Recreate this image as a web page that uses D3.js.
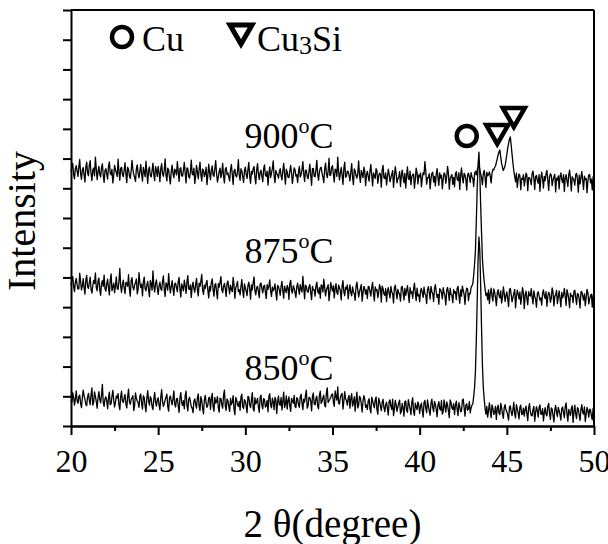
<!DOCTYPE html>
<html>
<head>
<meta charset="utf-8">
<script src="https://cdn.jsdelivr.net/npm/d3@7"></script>
<style>
	body { margin: 0; background: #fff; }
	#graphicContainer { width: 608px; height: 544px; }
	text { font-family: "Liberation Serif", "Times New Roman", "DejaVu Serif", serif; fill: #000; }
</style>
</head>
<body>
<div id="graphicContainer"></div>
<script>

// intensities read every 0.1 degree (20.0 ... 50.0) and at the midpoints (20.05 ... 49.95)
var s850 = [
	87, 112, 70, 118, 76, 104, 62, 121, 90, 68,
	110, 72, 128, 80, 99, 60, 116, 78, 140, 66,
	98, 58, 114, 75, 120, 64, 101, 109, 55, 117,
	79, 106, 61, 124, 73, 95, 52, 111, 84, 63,
	108, 57, 96, 48, 119, 70, 92, 55, 113, 67,
	95, 54, 122, 66, 88, 107, 50, 101, 71, 118,
	64, 93, 46, 112, 69, 58, 117, 51, 97, 65,
	45, 91, 60, 108, 52, 86, 41, 103, 63, 94,
	56, 110, 50, 77, 99, 47, 92, 60, 121, 53,
	85, 49, 72, 102, 38, 88, 66, 53, 107, 59,
	83, 45, 97, 62, 112, 50, 74, 93, 46, 104,
	58, 90, 67, 48, 109, 61, 82, 96, 42, 101,
	70, 54, 114, 73, 57, 98, 49, 86, 103, 62,
	92, 63, 107, 55, 80, 121, 68, 95, 51, 111,
	71, 100, 58, 117, 83, 104, 64, 128, 85, 97,
	108, 66, 99, 132, 74, 105, 57, 116, 86, 94,
	60, 109, 79, 50, 114, 70, 95, 47, 102, 63,
	56, 92, 44, 85, 61, 98, 40, 83, 52, 90,
	48, 80, 37, 88, 55, 35, 86, 49, 78, 41,
	76, 33, 84, 46, 72, 38, 95, 36, 64, 81,
	42, 77, 30, 86, 45, 68, 37, 90, 48, 74,
	31, 82, 53, 40, 88, 47, 72, 28, 79, 56,
	39, 84, 35, 66, 50, 91, 33, 75, 58, 44,
	70, 100, 185, 420, 636, 470, 205, 92, 40, 30,
	78, 28, 60, 45, 22, 70, 38, 63, 26, 72,
	49, 20, 68, 35, 80, 27, 58, 24, 70, 41,
	33, 67, 18, 75, 36, 55, 16, 65, 30, 71,
	39, 17, 62, 34, 76, 22, 57, 14, 69, 32,
	52, 20, 64, 28, 78, 16, 45, 60, 12, 70,
	25, 58, 19, 72, 40, 15, 63, 30, 54, 21,
	47
]
var s850mid = [
	80, 96, 91, 85, 99, 77, 94, 102, 73, 97,
	88, 106, 70, 115, 83, 95, 90, 104, 79, 92,
	85, 93, 72, 100, 87, 79, 94, 70, 99, 84,
	95, 74, 98, 81, 89, 102, 69, 93, 78, 100,
	76, 102, 68, 94, 84, 99, 65, 90, 80, 88,
	72, 97, 83, 75, 98, 66, 95, 85, 92, 74,
	91, 68, 96, 79, 85, 102, 70, 88, 81, 60,
	84, 73, 95, 67, 99, 59, 88, 78, 71, 97,
	90, 65, 96, 82, 62, 94, 72, 104, 68, 91,
	66, 93, 80, 57, 96, 71, 83, 98, 64, 89,
	68, 100, 71, 88, 59, 95, 82, 63, 97, 70,
	92, 64, 86, 99, 70, 94, 55, 89, 80, 73,
	96, 83, 62, 101, 85, 68, 93, 76, 66, 95,
	71, 98, 77, 90, 103, 60, 96, 84, 99, 74,
	93, 66, 104, 76, 95, 70, 112, 79, 90, 105,
	82, 118, 87, 77, 96, 110, 83, 91, 70, 103,
	92, 67, 98, 88, 61, 100, 74, 84, 90, 71,
	85, 58, 97, 72, 88, 55, 94, 66, 79, 62,
	71, 59, 83, 66, 90, 57, 72, 64, 87, 50,
	60, 82, 52, 89, 58, 80, 49, 77, 55, 70,
	66, 52, 80, 59, 88, 51, 77, 62, 83, 56,
	70, 58, 86, 49, 67, 81, 50, 88, 61, 75,
	68, 56, 79, 48, 86, 62, 70, 53, 82, 61,
	75, 130, 290, 560, 590, 330, 130, 60, 66, 52,
	50, 71, 39, 66, 58, 44, 76, 41, 62, 53,
	36, 63, 47, 55, 40, 72, 43, 64, 38, 60,
	55, 42, 61, 48, 34, 66, 45, 52, 63, 40,
	58, 45, 39, 67, 42, 61, 36, 54, 47, 63,
	38, 59, 44, 66, 41, 56, 35, 68, 48, 40,
	62, 37, 55, 46, 64, 39, 51, 57, 35, 60
]

var s875 = [
	475, 503, 452, 497, 461, 514, 458, 496, 444, 507,
	463, 501, 447, 490, 515, 455, 498, 440, 489, 508,
	454, 494, 441, 512, 468, 449, 502, 460, 530, 450,
	491, 446, 480, 509, 437, 499, 458, 483, 445, 516,
	466, 438, 501, 455, 487, 435, 478, 522, 451, 492,
	443, 484, 456, 505, 436, 475, 513, 448, 489, 440,
	481, 452, 500, 434, 468, 491, 446, 506, 460, 433,
	484, 450, 497, 438, 470, 510, 443, 463, 490, 431,
	455, 495, 437, 479, 428, 467, 503, 449, 480, 436,
	488, 445, 461, 500, 430, 474, 452, 441, 493, 433,
	466, 439, 484, 427, 458, 502, 441, 470, 432, 481,
	448, 474, 429, 460, 492, 436, 455, 478, 424, 469,
	440, 487, 430, 457, 473, 426, 490, 447, 463, 433,
	481, 444, 462, 504, 428, 469, 450, 476, 425, 458,
	437, 484, 446, 430, 472, 494, 438, 465, 422, 483,
	454, 431, 479, 443, 466, 424, 489, 439, 460, 428,
	475, 438, 452, 423, 484, 434, 463, 420, 470, 444,
	429, 468, 437, 483, 421, 455, 432, 476, 417, 462,
	440, 419, 466, 431, 451, 414, 474, 428, 448, 420,
	470, 424, 440, 472, 416, 447, 430, 481, 422, 438,
	418, 463, 433, 445, 412, 469, 427, 452, 419, 476,
	433, 410, 458, 428, 449, 407, 466, 423, 443, 415,
	447, 425, 470, 413, 437, 456, 409, 464, 422, 445,
	472, 508, 592, 800, 922, 742, 562, 488, 440, 425,
	412, 464, 420, 450, 405, 459, 431, 414, 468, 419,
	451, 402, 463, 418, 446, 398, 457, 428, 410, 466,
	395, 454, 408, 440, 462, 411, 437, 400, 452, 424,
	407, 458, 429, 403, 450, 416, 465, 404, 441, 412,
	455, 401, 431, 463, 406, 446, 398, 437, 415, 457,
	409, 443, 397, 452, 424, 405, 460, 411, 438, 400,
	445
]
var s875mid = [
	490, 470, 485, 476, 462, 488, 471, 465, 492, 469,
	483, 460, 472, 479, 466, 487, 458, 480, 470, 462,
	478, 466, 490, 455, 481, 473, 462, 486, 471, 477,
	465, 484, 470, 461, 488, 467, 474, 495, 459, 482,
	478, 486, 463, 474, 461, 490, 457, 471, 480, 465,
	470, 462, 487, 460, 482, 457, 474, 468, 463, 478,
	466, 486, 459, 478, 455, 472, 484, 461, 475, 469,
	462, 476, 459, 481, 487, 458, 474, 480, 457, 470,
	483, 460, 475, 451, 479, 484, 458, 470, 462, 480,
	466, 474, 452, 476, 465, 487, 459, 470, 455, 478,
	453, 472, 461, 475, 483, 455, 466, 452, 479, 463,
	470, 450, 476, 471, 454, 468, 461, 449, 473, 457,
	469, 455, 471, 449, 465, 478, 456, 472, 450, 468,
	461, 476, 451, 465, 474, 453, 468, 448, 470, 459,
	471, 454, 466, 475, 451, 469, 457, 476, 449, 465,
	472, 463, 449, 474, 455, 470, 452, 467, 475, 456,
	448, 468, 445, 470, 459, 451, 476, 447, 462, 458,
	470, 452, 466, 447, 468, 460, 449, 464, 471, 444,
	462, 453, 446, 470, 445, 465, 451, 460, 443, 467,
	449, 463, 455, 444, 466, 452, 461, 448, 464, 442,
	455, 448, 467, 440, 459, 450, 470, 446, 461, 451,
	443, 462, 449, 466, 438, 457, 447, 464, 440, 459,
	452, 463, 440, 458, 471, 443, 450, 461, 446, 466,
	480, 545, 690, 880, 850, 650, 520, 462, 447, 458,
	446, 437, 461, 432, 448, 440, 455, 433, 447, 439,
	428, 458, 441, 432, 460, 436, 444, 451, 434, 448,
	440, 429, 452, 437, 433, 455, 426, 446, 438, 431,
	447, 438, 452, 435, 444, 431, 450, 437, 456, 433,
	430, 450, 441, 436, 459, 428, 447, 439, 453, 432,
	446, 428, 451, 437, 445, 432, 449, 427, 444, 441
]

var s900 = [
	855, 884, 832, 876, 840, 897, 830, 870, 821, 888,
	842, 893, 826, 868, 905, 829, 874, 838, 882, 820,
	866, 831, 889, 845, 818, 877, 852, 898, 827, 871,
	839, 886, 819, 864, 833, 894, 846, 823, 879, 835,
	880, 824, 856, 891, 817, 872, 838, 885, 826, 861,
	874, 822, 883, 840, 899, 825, 862, 815, 878, 836,
	858, 890, 823, 869, 841, 887, 818, 866, 834, 895,
	845, 816, 877, 832, 888, 824, 860, 850, 812, 881,
	829, 875, 840, 893, 821, 857, 836, 884, 818, 870,
	852, 825, 880, 813, 864, 838, 896, 827, 858, 820,
	871, 833, 887, 817, 848, 873, 815, 883, 830, 861,
	822, 879, 840, 811, 872, 851, 892, 819, 849, 834,
	866, 828, 884, 814, 855, 836, 877, 816, 869, 841,
	820, 874, 846, 890, 823, 860, 832, 881, 810, 867,
	839, 894, 827, 868, 850, 819, 885, 836, 901, 845,
	876, 821, 862, 905, 828, 870, 813, 888, 840, 856,
	825, 883, 812, 859, 834, 892, 820, 848, 871, 809,
	857, 824, 880, 808, 842, 866, 817, 851, 804, 877,
	833, 811, 864, 822, 847, 803, 873, 818, 838, 806,
	861, 819, 801, 872, 829, 812, 846, 800, 868, 815,
	838, 805, 853, 890, 814, 836, 798, 850, 821, 808,
	866, 810, 834, 799, 852, 817, 874, 797, 840, 813,
	805, 856, 826, 796, 869, 818, 845, 794, 851, 820,
	839, 806, 857, 862, 879, 848, 812, 860, 803, 842,
	855, 818, 864, 870, 887, 912, 929, 884, 860, 876,
	913, 951, 973, 914, 858, 822, 803, 848, 795, 830,
	808, 851, 792, 836, 812, 858, 796, 843, 817, 790,
	854, 801, 826, 860, 793, 849, 809, 838, 788, 827,
	798, 852, 819, 789, 846, 806, 861, 791, 833, 811,
	850, 787, 815, 857, 796, 829, 785, 845, 818, 794,
	836
]
var s900mid = [
	870, 847, 866, 858, 873, 850, 862, 845, 871, 852,
	878, 849, 861, 842, 866, 855, 847, 869, 844, 860,
	848, 872, 851, 864, 843, 862, 840, 857, 868, 846,
	862, 849, 871, 842, 858, 864, 837, 866, 851, 857,
	848, 870, 839, 855, 862, 843, 859, 846, 873, 840,
	853, 866, 849, 861, 844, 868, 838, 857, 850, 864,
	845, 857, 866, 842, 861, 851, 869, 840, 856, 848,
	868, 840, 855, 862, 846, 865, 839, 871, 844, 852,
	861, 845, 866, 850, 837, 868, 853, 841, 864, 846,
	838, 862, 848, 859, 843, 855, 845, 866, 839, 860,
	846, 863, 841, 857, 866, 838, 861, 849, 853, 840,
	865, 844, 858, 849, 836, 867, 842, 860, 846, 855,
	843, 859, 847, 864, 837, 858, 850, 842, 862, 846,
	855, 838, 863, 848, 861, 839, 857, 844, 866, 841,
	862, 846, 855, 871, 838, 864, 849, 858, 843, 870,
	848, 864, 840, 857, 851, 845, 866, 837, 858, 844,
	855, 838, 865, 842, 851, 843, 860, 836, 857, 847,
	839, 858, 844, 852, 833, 859, 841, 848, 862, 835,
	852, 838, 847, 835, 859, 840, 851, 832, 856, 843,
	836, 850, 842, 833, 858, 839, 848, 830, 852, 845,
	851, 834, 846, 858, 836, 849, 832, 854, 840, 847,
	835, 852, 844, 830, 848, 838, 851, 833, 846, 837,
	848, 831, 853, 842, 836, 850, 829, 845, 838, 853,
	833, 850, 845, 868, 862, 836, 849, 838, 854, 846,
	840, 851, 862, 875, 900, 922, 905, 870, 868, 895,
	935, 965, 945, 885, 840, 851, 830, 842, 833, 846,
	828, 843, 836, 827, 849, 833, 840, 826, 846, 835,
	832, 840, 848, 829, 838, 844, 828, 847, 834, 842,
	841, 829, 846, 835, 826, 844, 832, 839, 827, 845,
	830, 844, 836, 828, 841, 833, 826, 846, 831, 839
]

var seriesNames = ["850", "875", "900"]
var seriesLabelY = [155, 549, 936]   // label baseline, in intensity units
var xTicks = [20, 25, 30, 35, 40, 45, 50]
var xMinorTicks = [22.5, 27.5, 32.5, 37.5, 42.5, 47.5]
var yTicks = d3.range(0, 1401, 100)

// peak markers: phase, 2theta, intensity
var peakPhase = ["Cu", "Cu3Si", "Cu3Si"]
var peakTheta = [42.7, 44.45, 45.4]
var peakLevel = [976, 983, 1040]

function merge(main, mid) {
	var out = []
	main.forEach(function(v, i) {
		out.push([20 + i * 0.1, v])
		if (i < mid.length) { out.push([20.05 + i * 0.1, mid[i]]) }
	})
	return out
}

function init() {

	var width = 608
	var height = 544
	var margin = {top: 10, right: 14, bottom: 118, left: 71}
	var w = width - margin.left - margin.right
	var h = height - margin.top - margin.bottom

	d3.select("#graphicContainer svg").remove();

	var svg = d3.select("#graphicContainer").append("svg")
				.attr("width", width)
				.attr("height", height)
				.attr("id", "svg")

	var features = svg.append("g").attr("transform", "translate(" + margin.left + "," + margin.top + ")");

	var x = d3.scaleLinear().domain([20, 50]).range([0, w]);
	var y = d3.scaleLinear().domain([0, 1400]).range([h, 0]);

	var line = d3.line()
		.x(function(d) { return x(d[0]) })
		.y(function(d) { return y(d[1]) })

	// data lines
	;[merge(s850, s850mid), merge(s875, s875mid), merge(s900, s900mid)].forEach(function(s) {
		features.append("path")
			.datum(s)
			.attr("d", line)
			.attr("fill", "none")
			.attr("stroke", "#000")
			.attr("stroke-width", 1.3)
			.attr("stroke-linejoin", "round")
	})

	// frame
	features.append("line")
		.attr("x1", 0).attr("x2", w).attr("y1", 0).attr("y2", 0)
		.attr("stroke", "#000").attr("stroke-width", 2)
	features.append("line")
		.attr("x1", w).attr("x2", w).attr("y1", 0).attr("y2", h)
		.attr("stroke", "#000").attr("stroke-width", 2)

	var xAxis = d3.axisBottom(x).tickValues(xTicks).tickSize(9).tickSizeOuter(0).tickPadding(14)
	var xMinor = d3.axisBottom(x).tickValues(xMinorTicks).tickSize(5).tickSizeOuter(0).tickFormat("")
	var yAxis = d3.axisLeft(y).tickValues(yTicks).tickSize(8).tickSizeOuter(0).tickFormat("")

	var gx = features.append("g")
		.attr("class", "x")
		.attr("transform", "translate(0," + h + ")")
		.call(xAxis)

	features.append("g")
		.attr("class", "x minor")
		.attr("transform", "translate(0," + h + ")")
		.call(xMinor)

	features.append("g")
		.attr("class", "y")
		.call(yAxis)

	features.selectAll(".domain").attr("stroke", "#000").attr("stroke-width", 2)
	features.selectAll(".tick line").attr("stroke", "#000").attr("stroke-width", 2)

	gx.selectAll("text")
		.attr("font-size", 32)
		.attr("fill", "#000")

	// axis titles
	svg.append("text")
		.attr("x", margin.left + w / 2)
		.attr("y", 537)
		.attr("text-anchor", "middle")
		.attr("font-size", 39)
		.text("2 θ(degree)")

	svg.append("text")
		.attr("transform", "translate(35," + (margin.top + h / 2 + 3) + ") rotate(-90)")
		.attr("text-anchor", "middle")
		.attr("font-size", 40)
		.text("Intensity")

	// temperature labels
	seriesNames.forEach(function(name, i) {
		var t = features.append("text")
			.attr("x", x(29.95))
			.attr("y", y(seriesLabelY[i]))
			.attr("font-size", 36)
		t.append("tspan").text(name)
		t.append("tspan").attr("font-size", 22).attr("dy", -15).text("o")
		t.append("tspan").attr("dy", 15).text("C")
	})

	function circleMark(g, cx, cy, sw) {
		g.append("circle")
			.attr("cx", cx).attr("cy", cy).attr("r", 10)
			.attr("fill", "#fff").attr("stroke", "#000").attr("stroke-width", sw)
	}

	function triMark(g, cx, cy, sw) {
		g.append("path")
			.attr("d", "M" + (cx - 11) + "," + (cy - 9) + "L" + (cx + 11) + "," + (cy - 9) + "L" + cx + "," + (cy + 10) + "Z")
			.attr("fill", "#fff").attr("stroke", "#000").attr("stroke-width", sw)
			.attr("stroke-linejoin", "miter")
	}

	// peak markers
	peakPhase.forEach(function(p, i) {
		if (p == "Cu") { circleMark(features, x(peakTheta[i]), y(peakLevel[i]), 4.5) }
		else { triMark(features, x(peakTheta[i]), y(peakLevel[i]), 4.5) }
	})

	// legend
	var legend = svg.append("g")
	circleMark(legend, 122, 37, 4.5)
	legend.append("text").attr("x", 142).attr("y", 51).attr("font-size", 36).text("Cu")
	triMark(legend, 241, 34, 5)
	var lt = legend.append("text").attr("x", 257).attr("y", 51).attr("font-size", 36)
	lt.append("tspan").text("Cu")
	lt.append("tspan").attr("font-size", 26).attr("dy", 3).text("3")
	lt.append("tspan").attr("dy", -3).text("Si")

}

init()

</script>
</body>
</html>
